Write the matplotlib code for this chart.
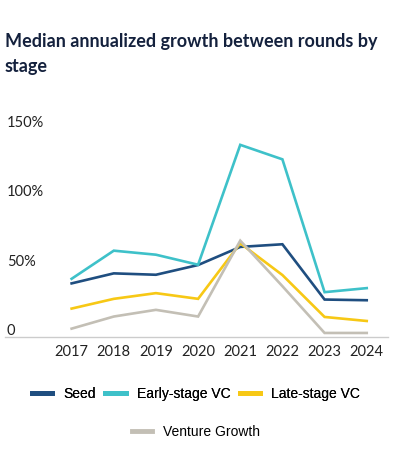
import matplotlib.pyplot as plt
from matplotlib.lines import Line2D

years = [2017, 2018, 2019, 2020, 2021, 2022, 2023, 2024]
seed = [38.5, 45.7, 44.7, 51.7, 64.7, 66.6, 26.9, 26.4]
early_vc = [41.8, 62.0, 59.1, 51.9, 138.0, 127.6, 32.2, 35.1]
late_vc = [20.4, 27.4, 31.5, 27.4, 67.3, 44.5, 14.4, 11.5]
venture_growth = [6.0, 14.7, 19.5, 14.7, 69.2, 36.5, 2.9, 2.9]

series_names = ['Seed', 'Early-stage VC', 'Late-stage VC', 'Venture Growth']
colors = ['#1f4e80', '#3ec1c9', '#f7c815', '#c3bfb5']
y_ticks = [0, 50, 100, 150]
y_tick_labels = ['0', '50%', '100%', '150%']

fig = plt.figure(figsize=(4.17, 4.75), dpi=100)
ax = fig.add_axes([0.012, 1 - 337 / 475, 0.918, (337 - 117) / 475])

for vals, c in zip([seed, early_vc, late_vc, venture_growth], colors):
    ax.plot(years, vals, color=c, linewidth=1.9, solid_joinstyle='miter')

ax.set_xlim(2017 - 1.58, 2024 + 0.5)
ax.set_ylim(0, 158)

for s in ['top', 'right', 'left']:
    ax.spines[s].set_visible(False)
ax.spines['bottom'].set_color('#cccccc')
ax.spines['bottom'].set_linewidth(1.0)

ax.set_yticks([])
ax.set_xticks(years)
ax.set_xticklabels([str(y) for y in years], fontsize=10.5, color='#222222', family='Lato')
ax.tick_params(axis='x', length=0, pad=6)

# y labels sit just above their values, inside the plot area
for v, lab in zip(y_ticks, y_tick_labels):
    ax.text(0.005, v - 1, lab, transform=ax.get_yaxis_transform(), ha='left',
            va='bottom', fontsize=10.5, color='#222222', family='Lato')

title_lines = ['Median annualized growth between rounds by', 'stage']
for i, line in enumerate(title_lines):
    fig.text(0.012, 1 - (47 + 25 * i) / 475, line, ha='left', va='baseline',
             fontsize=13, fontweight='bold', color='#14213d', family='Lato')

handles = [Line2D([], [], color=c, linewidth=3.5) for c in colors]
leg_kw = dict(loc='center', frameon=False,
              prop={'family': 'Liberation Sans', 'size': 10},
              handlelength=1.45, handletextpad=0.8)
leg1 = fig.legend(handles[:3], series_names[:3], ncol=3, columnspacing=0.7,
                  bbox_to_anchor=(0.47, 1 - 394 / 475), **leg_kw)
fig.legend(handles[3:], series_names[3:], ncol=1,
           bbox_to_anchor=(0.47, 1 - 432 / 475), **leg_kw)
fig.add_artist(leg1)

fig.savefig('out.png', dpi=100)
